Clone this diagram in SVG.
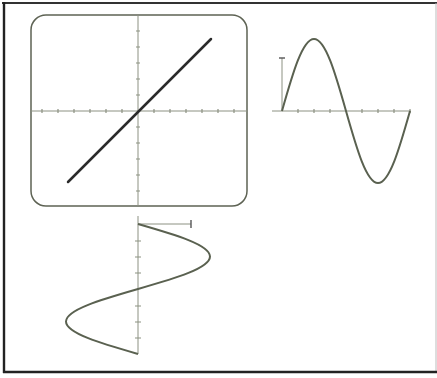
<svg xmlns="http://www.w3.org/2000/svg" width="437" height="378" viewBox="0 0 437 378">
<style>
.axis{stroke:#8c9182;stroke-width:1;fill:none}
.tick{stroke:#8c9182;stroke-width:1.2;fill:none}
.wave{stroke:#5a6150;stroke-width:2;fill:none;stroke-linejoin:round}
.mark{stroke:#555;stroke-width:1.4;fill:none}
</style>
<rect x="0" y="0" width="437" height="378" fill="#ffffff"/>
<g id="frame">
<line x1="2" y1="3" x2="437" y2="3" stroke="#333" stroke-width="2"/>
<line x1="436" y1="3" x2="436" y2="372" stroke="#bbb" stroke-width="1"/>
<line x1="4" y1="2" x2="4" y2="373" stroke="#222" stroke-width="2.4"/>
<line x1="3" y1="372" x2="437" y2="372" stroke="#222" stroke-width="2.4"/>
</g>
<g id="screen">
<rect x="31" y="15" width="216" height="191" rx="15" ry="15" fill="none" stroke="#5e6354" stroke-width="1.5"/>
<line class="axis" x1="31" y1="111" x2="247" y2="111"/>
<line class="axis" x1="138" y1="15" x2="138" y2="206"/>
<path class="tick" d="M42 109v4M58 109v4M74 109v4M90 109v4M106 109v4M122 109v4M154 109v4M170 109v4M186 109v4M202 109v4M218 109v4M234 109v4"/>
<path class="tick" d="M136 31h4M136 47h4M136 63h4M136 79h4M136 95h4M136 127h4M136 143h4M136 159h4M136 175h4M136 191h4"/>
<line x1="68" y1="182" x2="211" y2="39" stroke="#2b2b2b" stroke-width="2.5" stroke-linecap="round"/>
</g>
<g id="right-sine">
<line class="axis" x1="272" y1="111" x2="411" y2="111"/>
<path class="tick" d="M298 109v4M314 109v4M330 109v4M362 109v4M378 109v4M394 109v4M410 109v4"/>
<line class="axis" x1="282" y1="111" x2="282" y2="58"/>
<line class="mark" x1="279" y1="58" x2="285" y2="58"/>
<path class="wave" d="M282 111C292.44 74.11 302.42 39 314 39C325.58 39 335.56 74.11 346 111C356.44 147.89 366.42 183 378 183C389.58 183 399.56 147.89 410 111"/>
</g>
<g id="bottom-sine">
<line class="axis" x1="138" y1="216" x2="138" y2="354"/>
<path class="tick" d="M135 241h6M135 257h6M135 273h6M135 306h6M135 322h6M135 338h6"/>
<line class="axis" x1="138" y1="224" x2="191" y2="224"/>
<line class="mark" x1="191" y1="220" x2="191" y2="228"/>
<path class="wave" d="M138 224C174.89 234.6 210 244.74 210 256.5C210 268.26 174.89 278.4 138 289C101.11 299.6 66 309.74 66 321.5C66 333.26 101.11 343.4 138 354"/>
</g>
</svg>
